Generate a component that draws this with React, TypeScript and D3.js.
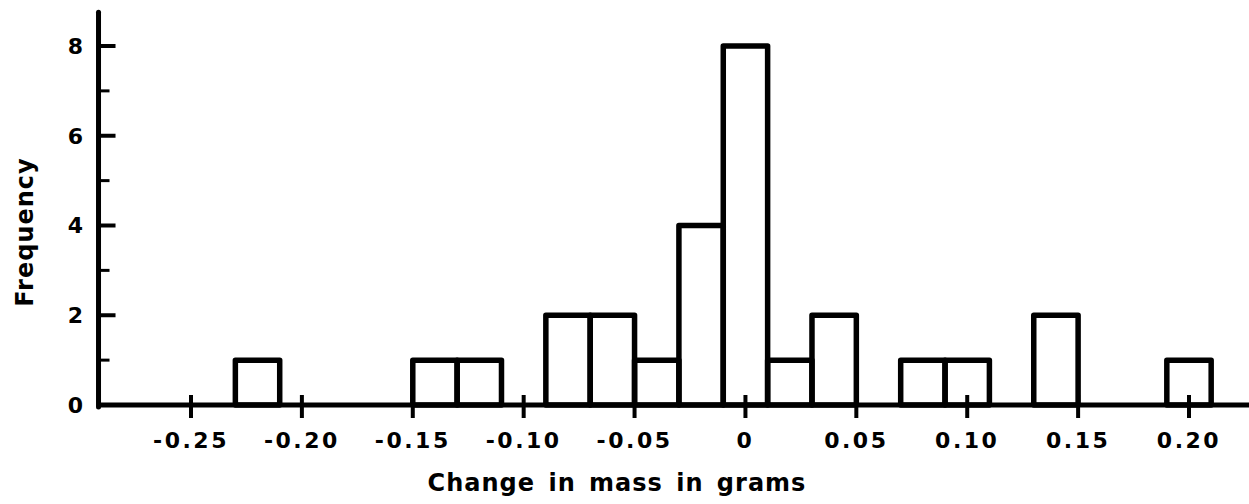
import React, { useEffect, useRef } from 'react';
import * as d3 from 'd3';

// histogram bins (centre of each 0.02 g bin) and their counts
const binCenters = [-0.22, -0.14, -0.12, -0.08, -0.06, -0.04, -0.02, 0, 0.02, 0.04, 0.08, 0.1, 0.14, 0.2];
const frequencies = [1, 1, 1, 2, 2, 1, 4, 8, 1, 2, 1, 1, 2, 1];
const binWidth = 0.02;

const xTickValues = [-0.25, -0.2, -0.15, -0.1, -0.05, 0, 0.05, 0.1, 0.15, 0.2];
const xTickLabels = ['-0.25', '-0.20', '-0.15', '-0.10', '-0.05', '0', '0.05', '0.10', '0.15', '0.20'];
const yMajorTicks = [0, 2, 4, 6, 8];
const yMinorTicks = [1, 3, 5, 7];

const App: React.FC = () => {
  const svgRef = useRef<SVGSVGElement | null>(null);

  useEffect(() => {
    const w = 1249;
    const h = 504;
    const font = '"DejaVu Sans", sans-serif';
    const svg = d3.select(svgRef.current)
      .attr('width', w)
      .attr('height', h)
      .style('background', '#fff');
    svg.selectAll('*').remove();

    const xScale = d3.scaleLinear().domain([-0.25, 0.2]).range([191, 1189]);
    const yScale = d3.scaleLinear().domain([0, 8]).range([405, 46]);

    const axisX0 = xScale(-0.2917);
    const axisX1 = w;
    const axisYTop = yScale(8.75);

    // bars
    svg.append('g')
      .selectAll('rect')
      .data(binCenters)
      .join('rect')
      .attr('x', (d) => xScale(d - binWidth / 2))
      .attr('y', (d, i) => yScale(frequencies[i]))
      .attr('width', xScale(binWidth) - xScale(0))
      .attr('height', (d, i) => yScale(0) - yScale(frequencies[i]))
      .attr('fill', 'none')
      .attr('stroke', '#000')
      .attr('stroke-width', 5.5)
      .attr('stroke-linejoin', 'round');

    // axes lines
    svg.append('line')
      .attr('x1', axisX0).attr('x2', axisX1)
      .attr('y1', yScale(0)).attr('y2', yScale(0))
      .attr('stroke', '#000').attr('stroke-width', 5);
    svg.append('line')
      .attr('x1', axisX0).attr('x2', axisX0)
      .attr('y1', axisYTop).attr('y2', yScale(0) + 2)
      .attr('stroke', '#000').attr('stroke-width', 5)
      .attr('stroke-linecap', 'round');

    // y ticks
    svg.append('g')
      .selectAll('line.major')
      .data(yMajorTicks.filter((d) => d > 0))
      .join('line')
      .attr('x1', axisX0).attr('x2', axisX0 + 17)
      .attr('y1', (d) => yScale(d)).attr('y2', (d) => yScale(d))
      .attr('stroke', '#000').attr('stroke-width', 4);
    svg.append('g')
      .selectAll('line.minor')
      .data(yMinorTicks)
      .join('line')
      .attr('x1', axisX0).attr('x2', axisX0 + 11)
      .attr('y1', (d) => yScale(d)).attr('y2', (d) => yScale(d))
      .attr('stroke', '#000').attr('stroke-width', 3);
    svg.append('g')
      .selectAll('text')
      .data(yMajorTicks)
      .join('text')
      .attr('x', 83)
      .attr('y', (d) => yScale(d))
      .attr('dy', '0.36em')
      .attr('text-anchor', 'end')
      .attr('font-family', font)
      .attr('font-weight', 'bold')
      .attr('font-size', 22)
      .text((d) => String(d));

    // x ticks (crossing the axis)
    svg.append('g')
      .selectAll('line')
      .data(xTickValues)
      .join('line')
      .attr('x1', (d) => xScale(d)).attr('x2', (d) => xScale(d))
      .attr('y1', yScale(0) - 10).attr('y2', yScale(0) + 13)
      .attr('stroke', '#000').attr('stroke-width', 4);
    svg.append('g')
      .selectAll('text')
      .data(xTickValues)
      .join('text')
      .attr('x', (d) => xScale(d))
      .attr('y', 440)
      .attr('dy', '0.36em')
      .attr('text-anchor', 'middle')
      .attr('font-family', font)
      .attr('font-weight', 'bold')
      .attr('font-size', 22)
      .attr('letter-spacing', 2.5)
      .text((d, i) => xTickLabels[i]);

    // axis titles
    svg.append('text')
      .attr('transform', 'translate(24,232) rotate(-90)')
      .attr('dy', '0.36em')
      .attr('text-anchor', 'middle')
      .attr('font-family', font)
      .attr('font-weight', 'bold')
      .attr('font-size', 24)
      .attr('letter-spacing', 1)
      .text('Frequency');
    svg.append('text')
      .attr('x', 617)
      .attr('y', 482)
      .attr('dy', '0.36em')
      .attr('text-anchor', 'middle')
      .attr('font-family', font)
      .attr('font-weight', 'bold')
      .attr('font-size', 24)
      .attr('letter-spacing', 1)
      .attr('word-spacing', 4)
      .text('Change in mass in grams');
  }, []);

  return (
    <div style={{ position: 'absolute', top: 0, left: 0 }}>
      <svg ref={svgRef} style={{ display: 'block' }}></svg>
    </div>
  );
};

export default App;
